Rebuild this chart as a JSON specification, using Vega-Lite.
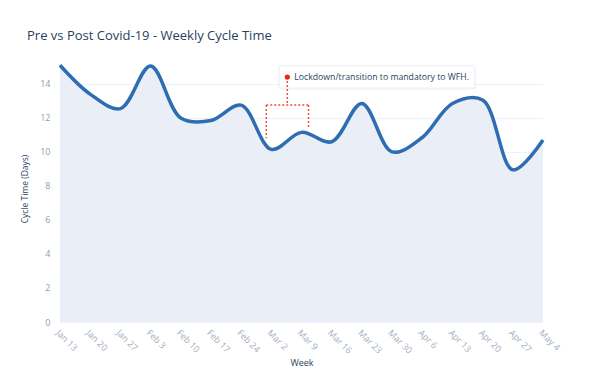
{
  "$schema": "https://vega.github.io/schema/vega-lite/v6.json",
  "width": 483,
  "height": 267,
  "autosize": "none",
  "padding": {"left": 60, "top": 55, "right": 47, "bottom": 66},
  "background": "white",
  "config": {"font": "Open Sans", "view": {"stroke": null}, "axis": {"labelOverlap": false}},
  "title": {"text": "Pre vs Post Covid-19 - Weekly Cycle Time", "anchor": "start", "frame": "group", "dx": -33, "offset": 12, "fontSize": 13, "fontWeight": "normal", "color": "#2a3f5f", "font": "Open Sans"},
  "datasets": {
    "cycle": [
      {"week": "2020-01-13", "days": 15.1},
      {"week": "2020-01-20", "days": 13.4},
      {"week": "2020-01-27", "days": 12.55},
      {"week": "2020-02-03", "days": 15.05},
      {"week": "2020-02-10", "days": 12.0},
      {"week": "2020-02-17", "days": 11.85},
      {"week": "2020-02-24", "days": 12.75},
      {"week": "2020-03-02", "days": 10.15},
      {"week": "2020-03-09", "days": 11.15},
      {"week": "2020-03-16", "days": 10.6},
      {"week": "2020-03-23", "days": 12.85},
      {"week": "2020-03-30", "days": 10.0},
      {"week": "2020-04-06", "days": 10.85},
      {"week": "2020-04-13", "days": 12.85},
      {"week": "2020-04-20", "days": 13.05},
      {"week": "2020-04-27", "days": 8.95},
      {"week": "2020-05-04", "days": 10.7}
    ],
    "bracket": [
      {"xa": "2020-03-05T17:00:00Z", "xb": "2020-03-05T17:00:00Z", "ya": 14.4, "yb": 12.76},
      {"xa": "2020-02-29T20:00:00Z", "xb": "2020-03-10T15:00:00Z", "ya": 12.76, "yb": 12.76},
      {"xa": "2020-02-29T20:00:00Z", "xb": "2020-02-29T20:00:00Z", "ya": 12.76, "yb": 10.8},
      {"xa": "2020-03-10T15:00:00Z", "xb": "2020-03-10T15:00:00Z", "ya": 12.76, "yb": 11.4}
    ],
    "box": [
      {"xa": "2020-03-03T20:00:00Z", "xb": "2020-04-18T03:00:00Z", "ya": 15.06, "yb": 13.76}
    ],
    "shadow": [
      {"xa": "2020-03-03T12:00:00Z", "xb": "2020-04-18T12:00:00Z", "ya": 15.12, "yb": 13.66}
    ],
    "note": [
      {"xd": "2020-03-05T17:00:00Z", "xt": "2020-03-07T08:00:00Z", "y": 14.4, "label": "Lockdown/transition to mandatory to WFH."}
    ]
  },
  "layer": [
    {
      "data": {"name": "cycle"},
      "mark": {"type": "area", "interpolate": "catmull-rom", "color": "#e9eef7", "opacity": 1},
      "encoding": {
        "x": {
          "field": "week", "type": "temporal",
          "scale": {"type": "utc", "domain": [{"year": 2020, "month": 1, "date": 13, "utc": true}, {"year": 2020, "month": 5, "date": 4, "utc": true}]},
          "axis": {
            "title": "Week",
            "values": [
              {"year": 2020, "month": 1, "date": 13, "utc": true},
              {"year": 2020, "month": 1, "date": 20, "utc": true},
              {"year": 2020, "month": 1, "date": 27, "utc": true},
              {"year": 2020, "month": 2, "date": 3, "utc": true},
              {"year": 2020, "month": 2, "date": 10, "utc": true},
              {"year": 2020, "month": 2, "date": 17, "utc": true},
              {"year": 2020, "month": 2, "date": 24, "utc": true},
              {"year": 2020, "month": 3, "date": 2, "utc": true},
              {"year": 2020, "month": 3, "date": 9, "utc": true},
              {"year": 2020, "month": 3, "date": 16, "utc": true},
              {"year": 2020, "month": 3, "date": 23, "utc": true},
              {"year": 2020, "month": 3, "date": 30, "utc": true},
              {"year": 2020, "month": 4, "date": 6, "utc": true},
              {"year": 2020, "month": 4, "date": 13, "utc": true},
              {"year": 2020, "month": 4, "date": 20, "utc": true},
              {"year": 2020, "month": 4, "date": 27, "utc": true},
              {"year": 2020, "month": 5, "date": 4, "utc": true}
            ],
            "tickCount": 40,
            "format": "%b %-d",
            "labelAngle": 45,
            "labelAlign": "left",
            "labelBaseline": "top",
            "labelColor": "#a3aec0",
            "labelFontSize": 9,
            "labelPadding": 6,
            "labelOverlap": false,
            "labelBound": false,
            "labelFlush": false,
            "ticks": false,
            "domain": false,
            "grid": false,
            "titleColor": "#2a3f5f",
            "titleFontSize": 9,
            "titleFontWeight": "normal",
            "titlePadding": 3
          }
        },
        "y": {
          "field": "days", "type": "quantitative",
          "scale": {"domain": [0, 15.7], "nice": false},
          "axis": {
            "title": "Cycle Time (Days)",
            "values": [0, 2, 4, 6, 8, 10, 12, 14],
            "tickCount": 20,
            "labelOverlap": false,
            "labelColor": "#8f9bb0",
            "labelFontSize": 9,
            "labelPadding": 10,
            "ticks": false,
            "domain": false,
            "grid": true,
            "gridColor": "#eef2f8",
            "gridWidth": 1,
            "titleColor": "#2a3f5f",
            "titleFontSize": 8.5,
            "titleFontWeight": "normal",
            "titlePadding": 10
          }
        }
      }
    },
    {
      "data": {"name": "cycle"},
      "mark": {"type": "line", "interpolate": "catmull-rom", "color": "#2f6db3", "strokeWidth": 3.5},
      "encoding": {
        "x": {"field": "week", "type": "temporal"},
        "y": {"field": "days", "type": "quantitative"}
      }
    },
    {
      "data": {"name": "shadow"},
      "mark": {"type": "rect", "color": "#000000", "opacity": 0.04, "cornerRadius": 3},
      "encoding": {
        "x": {"field": "xa", "type": "temporal"},
        "x2": {"field": "xb"},
        "y": {"field": "ya", "type": "quantitative"},
        "y2": {"field": "yb"}
      }
    },
    {
      "data": {"name": "box"},
      "mark": {"type": "rect", "color": "#ffffff", "stroke": "#f0f2f5", "strokeWidth": 1, "cornerRadius": 2},
      "encoding": {
        "x": {"field": "xa", "type": "temporal"},
        "x2": {"field": "xb"},
        "y": {"field": "ya", "type": "quantitative"},
        "y2": {"field": "yb"}
      }
    },
    {
      "data": {"name": "bracket"},
      "mark": {"type": "rule", "color": "#f0503c", "strokeWidth": 1.5, "strokeDash": [2, 2]},
      "encoding": {
        "x": {"field": "xa", "type": "temporal"},
        "x2": {"field": "xb"},
        "y": {"field": "ya", "type": "quantitative"},
        "y2": {"field": "yb"}
      }
    },
    {
      "data": {"name": "note"},
      "mark": {"type": "point", "filled": true, "color": "#e8291c", "size": 28, "opacity": 1},
      "encoding": {
        "x": {"field": "xd", "type": "temporal"},
        "y": {"field": "y", "type": "quantitative"}
      }
    },
    {
      "data": {"name": "note"},
      "mark": {"type": "text", "align": "left", "baseline": "middle", "fontSize": 8.7, "color": "#2a3f5f", "font": "Open Sans"},
      "encoding": {
        "x": {"field": "xt", "type": "temporal"},
        "y": {"field": "y", "type": "quantitative"},
        "text": {"field": "label"}
      }
    }
  ]
}
